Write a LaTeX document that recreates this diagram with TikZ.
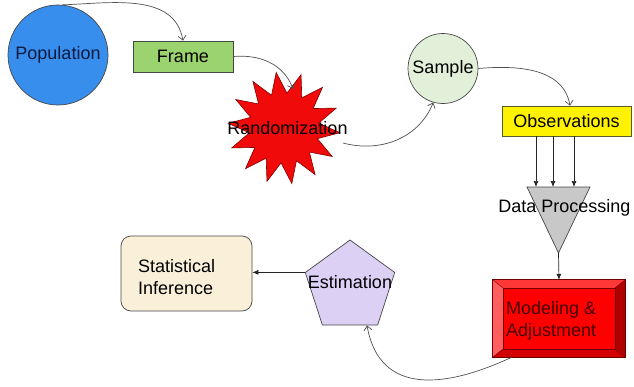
\documentclass[tikz,border=0pt]{standalone}
\usepackage{fontspec}
\setmainfont{Liberation Sans}
\usetikzlibrary{shapes.geometric,arrows.meta,calc}
\definecolor{popblue}{RGB}{56,142,236}
\definecolor{navytext}{RGB}{12,26,64}
\definecolor{framegreen}{RGB}{155,212,110}
\definecolor{samplegreen}{RGB}{226,240,217}
\definecolor{trigray}{RGB}{200,200,200}
\definecolor{lav}{RGB}{220,208,245}
\definecolor{beige}{RGB}{250,240,218}
\definecolor{linegray}{RGB}{80,80,80}
\definecolor{edgegray}{RGB}{70,70,70}
\definecolor{starred}{RGB}{240,10,10}
\definecolor{stardark}{RGB}{130,0,0}
\definecolor{bevtop}{RGB}{255,55,55}
\definecolor{bevleft}{RGB}{255,95,95}
\definecolor{bevright}{RGB}{175,0,0}
\definecolor{bevbot}{RGB}{210,0,0}
\definecolor{modedge}{RGB}{110,0,0}
\definecolor{modtext}{RGB}{70,0,0}
\definecolor{obsedge}{RGB}{90,90,40}
\begin{document}
\begin{tikzpicture}[x=1pt,y=1pt,font=\fontsize{18}{22.5}\selectfont,
  curv/.style={draw=linegray,line width=0.7pt,-{Straight Barb[length=4.5pt,width=8pt]}},
  strt/.style={draw=black!85,line width=0.7pt,-{Latex[length=6pt,width=5pt]}},
  shp/.style={draw=edgegray,line width=0.7pt}]
\useasboundingbox (0,0) rectangle (634,-386);

% Population
\node[shp,circle,fill=popblue,minimum size=100pt,inner sep=0pt,text=navytext] (pop) at (58,-55) {Population};
% Frame
\node[shp,rectangle,fill=framegreen,minimum width=100pt,minimum height=31pt,inner sep=0pt] (frame) at (183,-56.5) {Frame};
% Randomization star
\node[star,star points=14,star point ratio=1.6,minimum size=112pt,inner sep=0pt,draw=stardark,line width=0.6pt,fill=starred,rotate=8] (rand) at (284,-128) {};
\node (randtxt) at (287.5,-128) {Randomization};
\coordinate (randout) at ($(rand.center)+(59,-15)$);
\coordinate (randin) at ($(rand.center)+(9,39)$);
% Sample
\node[shp,circle,fill=samplegreen,minimum size=70pt,inner sep=0pt] (samp) at (443,-68.5) {Sample};
% Observations
\node[draw=obsedge,line width=0.7pt,fill=yellow,minimum width=129pt,minimum height=30pt,inner sep=0pt] (obs) at (566.5,-121) {Observations};
% Data processing triangle
\path[shp,fill=trigray] (527,-187) coordinate (tl) -- (590,-187) coordinate (tr) -- (558.5,-253) coordinate (apex) -- cycle;
\coordinate (t1) at (536,-187);
\coordinate (t2) at (553,-187);
\coordinate (t3) at (574,-187);
\node (dp) at (564.5,-208) {Data Processing};
% Modeling box
\node[fill=red,minimum width=132pt,minimum height=77pt,inner sep=0pt] (model) at (559,-318.5) {};
\fill[bevtop] (model.north west) -- (model.north east) -- ($(model.north east)+(-10,-8)$) -- ($(model.north west)+(10,-8)$) -- cycle;
\fill[bevleft] (model.north west) -- ($(model.north west)+(10,-8)$) -- ($(model.south west)+(10,8)$) -- (model.south west) -- cycle;
\fill[bevright] (model.north east) -- ($(model.north east)+(-10,-8)$) -- ($(model.south east)+(-10,8)$) -- (model.south east) -- cycle;
\fill[bevbot] (model.south west) -- ($(model.south west)+(10,8)$) -- ($(model.south east)+(-10,8)$) -- (model.south east) -- cycle;
\draw[modedge,line width=0.4pt] ($(model.north west)+(10,-8)$) rectangle ($(model.south east)+(-10,8)$);
\draw[modedge,line width=0.4pt] (model.north west) -- ($(model.north west)+(10,-8)$)
  (model.north east) -- ($(model.north east)+(-10,-8)$)
  (model.south west) -- ($(model.south west)+(10,8)$)
  (model.south east) -- ($(model.south east)+(-10,8)$);
\draw[modedge,line width=0.7pt] (model.north west) rectangle (model.south east);
\node[text=modtext,align=left,anchor=west,inner sep=0pt] (modtxt) at (506,-321) {Modeling \&\\Adjustment};
% Estimation pentagon
\node[shp,regular polygon,regular polygon sides=5,minimum size=94pt,inner sep=0pt,fill=lav] (est) at (350,-287) {};
\node (esttxt) at (350,-282) {Estimation};
% Statistical inference
\node[shp,fill=beige,rounded corners=10pt,minimum width=131pt,minimum height=75pt,inner sep=0pt] (si) at (186.5,-273.5) {};
\node[align=left,anchor=west,inner sep=0pt] (sitxt) at (138,-277) {Statistical\\Inference};

% curved connectors
\draw[curv] (pop.85) to[out=2,in=100] (frame.north);
\draw[curv] (frame.east) to[out=5,in=110] (randin);
\draw[curv] (randout) to[out=-15,in=-112] (samp.-106);
\draw[curv] (samp.east) to[out=5,in=100] ($(obs.north)+(3.5,0)$);
\draw[curv] ($(model.south west)+(19,0)$) to[out=-155,in=-80,looseness=1.25] ($(est.south)+(17,0)$);
% straight connectors
\draw[strt] (obs.south -| t1) -- (t1);
\draw[strt] (obs.south -| t2) -- (t2);
\draw[strt] (obs.south -| t3) -- (t3);
\draw[strt] (apex) -- (model.north);
\draw[strt] (est.corner 2) -- (est.corner 2 -| si.east);
\end{tikzpicture}
\end{document}
